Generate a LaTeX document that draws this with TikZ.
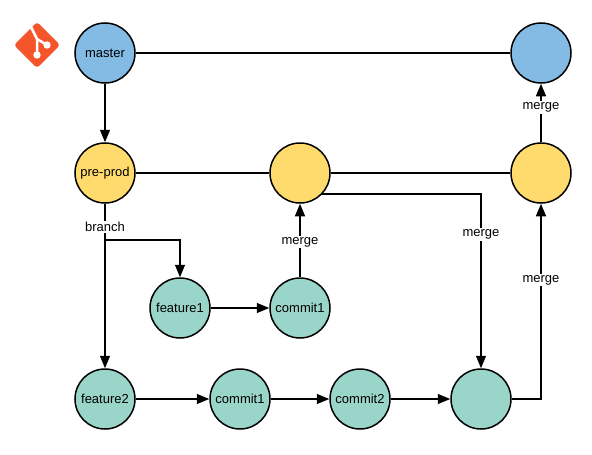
\documentclass[tikz,border=0pt]{standalone}
\usepackage{xcolor}
\usepackage{fontspec}
\setmainfont{Liberation Sans}
\usetikzlibrary{arrows.meta, calc}
\definecolor{masterblue}{HTML}{83BBE5}
\definecolor{prodyellow}{HTML}{FFDB6E}
\definecolor{featgreen}{HTML}{9AD5CA}
\definecolor{gitorange}{HTML}{F4552A}
\tikzset{
  commit/.style={circle, draw=black, line width=1.5pt, minimum size=60pt, inner sep=0pt, font=\fontsize{13}{15}\selectfont},
  link/.style={line width=1.3pt, -{Triangle[length=12.5pt,width=10pt]}},
  plainlink/.style={line width=1.3pt},
  lbl/.style={fill=white, inner sep=1.5pt, font=\fontsize{13}{15}\selectfont}
}
\begin{document}
\begin{tikzpicture}[x=1pt,y=-1pt]
\useasboundingbox (0,0) rectangle (592,455);
\fill[gitorange, rounded corners=3pt] (37,22) -- (60,45) -- (37,68) -- (14,45) -- cycle;
\draw[white, line width=2.5pt] (31,27) -- (37,39) -- (37,55);
\draw[white, line width=2.5pt] (37,39) -- (47,45);
\fill[white] (37,55) circle(3.7pt);
\fill[white] (47,45) circle(3.7pt);
\node[commit, fill=masterblue] (master) at (105,53) {master};
\node[commit, fill=masterblue] (masterb) at (541,53) {};
\node[commit, fill=prodyellow] (preprod) at (105,173) {pre-prod};
\node[commit, fill=prodyellow] (prodb) at (300,173) {};
\node[commit, fill=prodyellow] (prodc) at (541,173) {};
\node[commit, fill=featgreen] (feature1) at (180,308) {feature1};
\node[commit, fill=featgreen] (commit1) at (300,308) {commit1};
\node[commit, fill=featgreen] (feature2) at (105,399) {feature2};
\node[commit, fill=featgreen] (commit1b) at (240,399) {commit1};
\node[commit, fill=featgreen] (commit2) at (360,399) {commit2};
\node[commit, fill=featgreen] (endfeat) at (481,399) {};
\coordinate (branchpt) at (105,240);
\draw[plainlink] (master) -- (masterb);
\draw[link] (master) -- (preprod);
\draw[plainlink] (preprod) -- (prodb);
\draw[plainlink] (prodb) -- (prodc);
\draw[link] (preprod) -- (feature2) node[lbl, pos=0.14] (branchlbl) {branch};
\draw[link] (branchpt) -| (feature1);
\draw[link] (feature1) -- (commit1);
\draw[link] (commit1) -- (prodb) node[lbl, pos=0.48] (mergea) {merge};
\draw[link] (prodb.-43) -| (endfeat) node[lbl, pos=0.616] (mergeb) {merge};
\draw[link] (feature2) -- (commit1b);
\draw[link] (commit1b) -- (commit2);
\draw[link] (commit2) -- (endfeat);
\draw[link] (endfeat) -| (prodc) node[lbl, pos=0.805] (mergec) {merge};
\draw[link] (prodc) -- (masterb) node[lbl, pos=0.59] (merged) {merge};
\end{tikzpicture}
\end{document}
